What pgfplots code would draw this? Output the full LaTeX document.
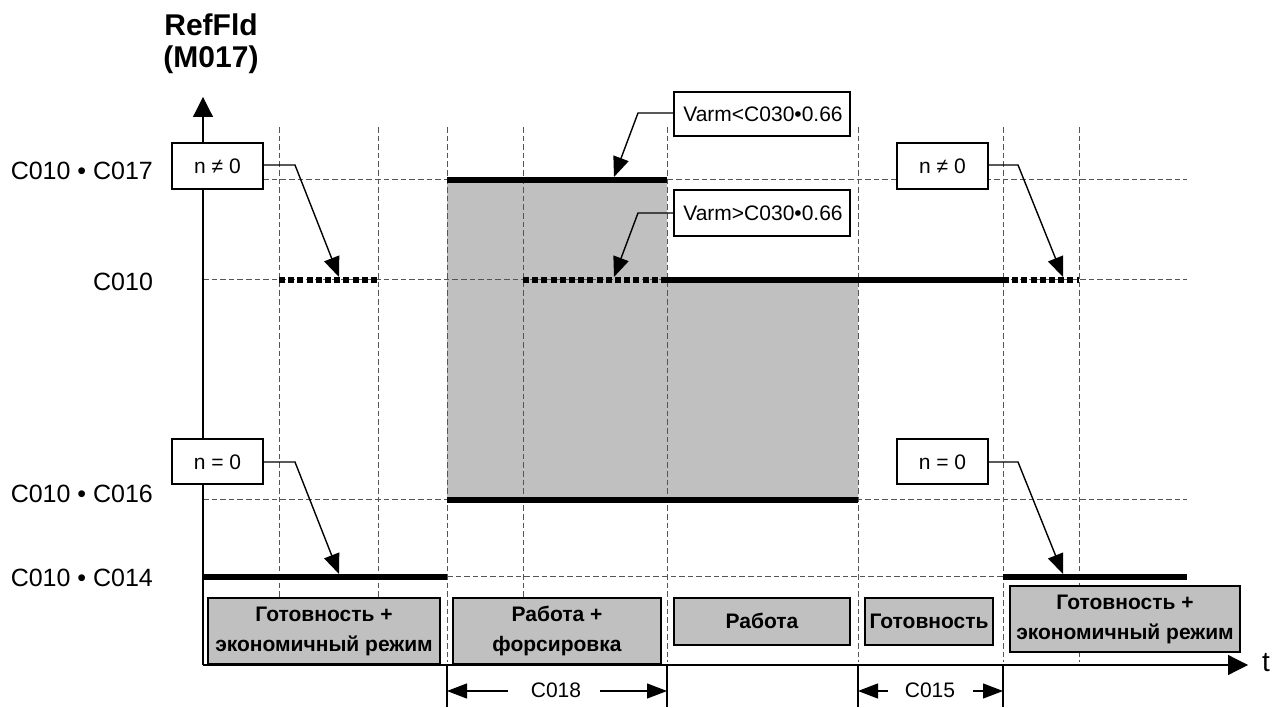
\documentclass[border=0pt]{standalone}
\usepackage{fontspec}
\setmainfont{Liberation Sans}
\usepackage{pgfplots}
\pgfplotsset{compat=1.18}
\usetikzlibrary{arrows.meta}
\definecolor{shade}{RGB}{192,192,192}
\definecolor{gridc}{RGB}{85,85,85}

\begin{document}
\begin{tikzpicture}
\begin{axis}[
  at={(0,0)}, anchor=south west,
  scale only axis, width=637pt, height=353.5pt,
  xmin=0, xmax=1274, ymin=-707, ymax=0,
  hide axis, clip=false,
]
% shaded area
\addplot[fill=shade, draw=none] coordinates {(447,-180) (667,-180) (667,-280) (858,-280) (858,-500) (447,-500)} -- cycle;

% grid
\pgfplotsinvokeforeach{279,378,447,523,667,858,1003,1079}{
  \draw[gridc, line width=0.5pt, dash pattern=on 2.8pt off 1.5pt] (axis cs:#1,-127) -- (axis cs:#1,-662);
}
\pgfplotsinvokeforeach{-180,-280,-500}{
  \draw[gridc, line width=0.5pt, dash pattern=on 2.8pt off 1.5pt] (axis cs:203,#1) -- (axis cs:1187,#1);
}
\draw[gridc, line width=0.5pt, dash pattern=on 2.8pt off 1.5pt] (axis cs:447,-577) -- (axis cs:1003,-577);

% levels
\addplot[black, line width=2.8pt] coordinates {(203,-577) (447,-577)};
\addplot[black, line width=2.8pt] coordinates {(447,-180) (667,-180)};
\addplot[black, line width=2.8pt] coordinates {(667,-280) (1003,-280)};
\addplot[black, line width=2.8pt] coordinates {(447,-500) (858,-500)};
\addplot[black, line width=2.8pt] coordinates {(1003,-577) (1187,-577)};
\addplot[black, line width=2.6pt, dash pattern=on 3pt off 1.6pt] coordinates {(279,-280) (378,-280)};
\addplot[black, line width=2.6pt, dash pattern=on 3pt off 1.6pt] coordinates {(523,-280) (667,-280)};
\addplot[black, line width=2.6pt, dash pattern=on 3pt off 1.6pt] coordinates {(1003,-280) (1079,-280)};

% axes
\draw[line width=0.6pt, -{Triangle[length=10pt,width=10pt]}] (axis cs:203,-665) -- (axis cs:203,-97);
\draw[line width=0.6pt, -{Triangle[length=10pt,width=10pt]}] (axis cs:203,-665) -- (axis cs:1248,-665);
\node[font=\fontsize{14pt}{15pt}\selectfont] at (axis cs:1266,-663) {t};
\node[font=\bfseries\fontsize{15pt}{16pt}\selectfont, align=center] at (axis cs:211,-44) {RefFld\\(M017)};

% level labels
\node[anchor=east, font=\fontsize{12.5pt}{14pt}\selectfont] at (axis cs:160,-171) {C010 • C017};
\node[anchor=east, font=\fontsize{12.5pt}{14pt}\selectfont] at (axis cs:160,-282) {C010};
\node[anchor=east, font=\fontsize{12.5pt}{14pt}\selectfont] at (axis cs:160,-494) {C010 • C016};
\node[anchor=east, font=\fontsize{12.5pt}{14pt}\selectfont] at (axis cs:160,-578) {C010 • C014};

% callouts
\tikzset{callout/.style={line width=0.7pt, -{Triangle[length=10pt,width=8pt]}}}
\draw[fill=white, line width=0.6pt] (axis cs:172,-143) rectangle (axis cs:263,-189);
\node[font=\fontsize{10.5pt}{11pt}\selectfont] at (axis cs:217.5,-166) {n ≠ 0};
\draw[callout] (axis cs:263,-165) -- (axis cs:295,-165) -- (axis cs:339,-277);

\draw[fill=white, line width=0.6pt] (axis cs:897,-143) rectangle (axis cs:988,-189);
\node[font=\fontsize{10.5pt}{11pt}\selectfont] at (axis cs:942.5,-166) {n ≠ 0};
\draw[callout] (axis cs:988,-165) -- (axis cs:1018,-165) -- (axis cs:1063,-277);

\draw[fill=white, line width=0.6pt] (axis cs:172,-439) rectangle (axis cs:263,-484);
\node[font=\fontsize{10.5pt}{11pt}\selectfont] at (axis cs:217.5,-462) {n = 0};
\draw[callout] (axis cs:263,-462) -- (axis cs:295,-462) -- (axis cs:339,-574);

\draw[fill=white, line width=0.6pt] (axis cs:897,-439) rectangle (axis cs:988,-484);
\node[font=\fontsize{10.5pt}{11pt}\selectfont] at (axis cs:942.5,-462) {n = 0};
\draw[callout] (axis cs:988,-462) -- (axis cs:1018,-462) -- (axis cs:1063,-574);

\draw[fill=white, line width=0.6pt] (axis cs:674,-92) rectangle (axis cs:850,-136);
\node[font=\fontsize{10.5pt}{11pt}\selectfont] at (axis cs:763,-114) {Varm<C030•0.66};
\draw[callout] (axis cs:674,-113) -- (axis cs:638,-113) -- (axis cs:614,-177);

\draw[fill=white, line width=0.6pt] (axis cs:674,-190) rectangle (axis cs:850,-236);
\node[font=\fontsize{10.5pt}{11pt}\selectfont] at (axis cs:763,-213) {Varm>C030•0.66};
\draw[callout] (axis cs:674,-213) -- (axis cs:638,-213) -- (axis cs:614,-277);

% mode boxes
\tikzset{mode/.style={font=\bfseries\fontsize{10.5pt}{15pt}\selectfont, align=center}}
\draw[fill=shade, line width=0.6pt] (axis cs:208,-598) rectangle (axis cs:440,-664);
\node[mode] at (axis cs:324,-631) {Готовность +\\экономичный режим};
\draw[fill=shade, line width=0.6pt] (axis cs:453,-598) rectangle (axis cs:661,-664);
\node[mode] at (axis cs:557,-631) {Работа +\\форсировка};
\draw[fill=shade, line width=0.6pt] (axis cs:674,-598) rectangle (axis cs:850,-645);
\node[mode] at (axis cs:762,-621) {Работа};
\draw[fill=shade, line width=0.6pt] (axis cs:865,-598) rectangle (axis cs:993,-645);
\node[mode] at (axis cs:929,-621) {Готовность};
\draw[fill=shade, line width=0.6pt] (axis cs:1010,-586) rectangle (axis cs:1240,-652);
\node[mode] at (axis cs:1125,-619) {Готовность +\\экономичный режим};

% durations
\pgfplotsinvokeforeach{447,667,858,1003}{
  \draw[line width=0.6pt] (axis cs:#1,-665) -- (axis cs:#1,-707);
}
\tikzset{dim/.style={line width=0.6pt, -{Triangle[length=10pt,width=7.5pt]}}}
\draw[dim] (axis cs:508,-691) -- (axis cs:447,-691);
\draw[dim] (axis cs:600,-691) -- (axis cs:667,-691);
\node[font=\fontsize{10.5pt}{12pt}\selectfont] at (axis cs:556,-690) {C018};
\draw[dim] (axis cs:888,-691) -- (axis cs:858,-691);
\draw[dim] (axis cs:973,-691) -- (axis cs:1003,-691);
\node[font=\fontsize{10.5pt}{12pt}\selectfont] at (axis cs:930,-690) {C015};
\end{axis}
\pgfresetboundingbox
\path[use as bounding box] (0,0) rectangle (637pt,353.5pt);
\end{tikzpicture}
\end{document}
